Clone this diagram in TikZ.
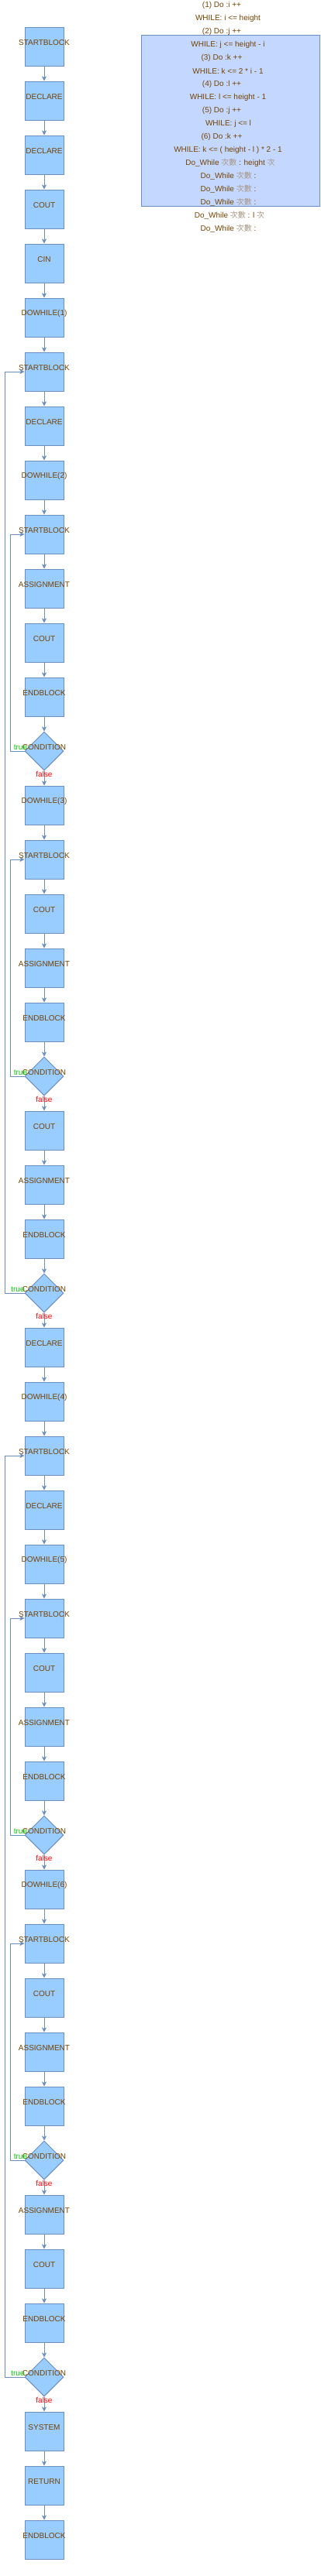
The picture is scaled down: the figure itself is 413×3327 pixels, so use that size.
\documentclass[tikz,border=0pt]{standalone}
\usepackage{fontspec}
\setmainfont{Liberation Sans}
\newfontfamily\cjkf{Noto Sans CJK TC}
\usetikzlibrary{shapes.geometric,arrows.meta}
\definecolor{boxc}{HTML}{99CCFF}
\definecolor{edgec}{HTML}{6C8EBF}
\definecolor{textc}{HTML}{744200}
\definecolor{cjkc}{HTML}{A89684}
\definecolor{panelc}{HTML}{C4D8FF}
\definecolor{truec}{HTML}{00CC00}
\definecolor{falsec}{HTML}{FF0000}
\newcommand{\cz}[1]{{\cjkf\color{cjkc}#1}}
\begin{document}
\begin{tikzpicture}[x=1pt,y=-1pt,font=\fontsize{10}{12}\selectfont,
  procbox/.style={draw=edgec,fill=boxc,line width=1pt,minimum width=50pt,minimum height=50pt,inner sep=0pt},
  condbox/.style={diamond,draw=edgec,fill=boxc,line width=1pt,minimum width=50pt,minimum height=50pt,inner sep=0pt},
  boxtext/.style={text=textc,inner sep=0pt,yshift=5pt},
  flowarrow/.style={draw=edgec,line width=1pt,-{Stealth[length=6pt,width=6pt,inset=1.5pt]}},
  truelabel/.style={text=truec,inner sep=0pt,xshift=4pt,yshift=5pt},
  falselabel/.style={text=falsec,inner sep=0pt},
  paneltext/.style={text=textc,inner sep=0pt}]
\useasboundingbox (0,0) rectangle (413,3327);
\fill[white] (0,0) rectangle (413,3327);
% panel
\draw[draw=edgec,fill=panelc,line width=1pt] (182,45) rectangle (412,266);
\node[paneltext] (t1) at (286,6.7) {(1) Do :i ++};
\node[paneltext] (t2) at (294,23.7) {WHILE: i <= height};
\node[paneltext] (t3) at (286,40.7) {(2) Do :j ++};
\node[paneltext] (t4) at (294,57.7) {WHILE: j <= height - i};
\node[paneltext] (t5) at (286,74.7) {(3) Do :k ++};
\node[paneltext] (t6) at (294,91.7) {WHILE: k <= 2 * i - 1};
\node[paneltext] (t7) at (286,108.7) {(4) Do :l ++};
\node[paneltext] (t8) at (294,125.7) {WHILE: l <= height - 1};
\node[paneltext] (t9) at (286,142.7) {(5) Do :j ++};
\node[paneltext] (t10) at (294.5,159.7) {WHILE: j <= l};
\node[paneltext] (t11) at (286,176.7) {(6) Do :k ++};
\node[paneltext] (t12) at (294,193.7) {WHILE: k <= ( height - l ) * 2 - 1};
\node[paneltext] (t13) at (297,210.7) {Do\_While \cz{次數} : height \cz{次}};
\node[paneltext] (t14) at (294.5,227.7) {Do\_While \cz{次數} :};
\node[paneltext] (t15) at (294.5,244.7) {Do\_While \cz{次數} :};
\node[paneltext] (t16) at (294.5,261.7) {Do\_While \cz{次數} :};
\node[paneltext] (t17) at (296,278.7) {Do\_While \cz{次數} : l \cz{次}};
\node[paneltext] (t18) at (294.5,295.7) {Do\_While \cz{次數} :};
% process boxes
\foreach \i/\t in {1/STARTBLOCK,2/DECLARE,3/DECLARE,4/COUT,5/CIN,6/DOWHILE(1),7/STARTBLOCK,8/DECLARE,9/DOWHILE(2),10/STARTBLOCK,11/ASSIGNMENT,12/COUT,13/ENDBLOCK,15/DOWHILE(3),16/STARTBLOCK,17/COUT,18/ASSIGNMENT,19/ENDBLOCK,21/COUT,22/ASSIGNMENT,23/ENDBLOCK,25/DECLARE,26/DOWHILE(4),27/STARTBLOCK,28/DECLARE,29/DOWHILE(5),30/STARTBLOCK,31/COUT,32/ASSIGNMENT,33/ENDBLOCK,35/DOWHILE(6),36/STARTBLOCK,37/COUT,38/ASSIGNMENT,39/ENDBLOCK,41/ASSIGNMENT,42/COUT,43/ENDBLOCK,45/SYSTEM,46/RETURN,47/ENDBLOCK}
  {\node[procbox,label={[boxtext]center:\t}] (n\i) at (57,{60+70*(\i-1)}) {};}
% condition diamonds
\foreach \i in {14,20,24,34,40,44}
  {\node[condbox,label={[boxtext]center:CONDITION}] (n\i) at (57,{60+70*(\i-1)}) {};}
% straight connectors
\foreach \i in {1,2,3,4,5,6,7,8,9,10,11,12,13,15,16,17,18,19,21,22,23,25,26,27,28,29,30,31,32,33,35,36,37,38,39,41,42,43,45,46}
  {\pgfmathtruncatemacro\j{\i+1}
   \draw[flowarrow] (n\i.south) -- (n\j.north);}
% false connectors
\foreach \i in {14,20,24,34,40,44}
  {\pgfmathtruncatemacro\j{\i+1}
   \draw[flowarrow] (n\i.south) -- node[falselabel,pos=0.25] {false} (n\j.north);}
% true loops
\draw[flowarrow] (n14.west) -- node[truelabel] {true} ++(-18,0) |- (n10.west);
\draw[flowarrow] (n20.west) -- node[truelabel] {true} ++(-18,0) |- (n16.west);
\draw[flowarrow] (n24.west) -- node[truelabel] {true} ++(-25,0) |- (n7.west);
\draw[flowarrow] (n34.west) -- node[truelabel] {true} ++(-18,0) |- (n30.west);
\draw[flowarrow] (n40.west) -- node[truelabel] {true} ++(-18,0) |- (n36.west);
\draw[flowarrow] (n44.west) -- node[truelabel] {true} ++(-25,0) |- (n27.west);
\end{tikzpicture}
\end{document}
